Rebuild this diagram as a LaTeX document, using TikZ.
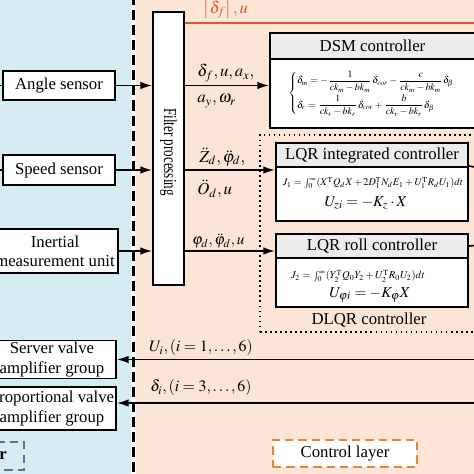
\documentclass[tikz,border=0pt]{standalone}
\usepackage{amsmath}
\usepackage{mathptmx}
\usepackage{fontspec}
\setmainfont{Liberation Serif}
\usetikzlibrary{arrows.meta}

\definecolor{bgblue}{RGB}{214,236,243}
\definecolor{bgpeach}{RGB}{251,229,214}
\definecolor{redline}{RGB}{224,88,48}
\definecolor{layerorange}{RGB}{228,134,58}
\definecolor{layerblue}{RGB}{72,122,160}
\definecolor{bargray}{RGB}{236,236,236}

\begin{document}
\begin{tikzpicture}[x=0.021cm,y=-0.021cm,
        >={Latex[length=7pt,width=4.5pt]},
        boxsize/.style 2 args={minimum width=#1*0.021cm,minimum height=#2*0.021cm},
        every node/.style={inner sep=0pt,font=\fontsize{10}{11.5}\selectfont}]
    \useasboundingbox (0,0) rectangle (474,474);
    \clip (0,0) rectangle (474,474);

    % layers
    \fill [bgblue] (0,0) rectangle (131,474);
    \fill [bgpeach] (136,0) rectangle (474,474);
    \draw [line width=1.2pt,dash pattern=on 6pt off 3pt] (133.5,-5) -- (133.5,480);

    \begin{scope}[every node/.style={draw,line width=1pt,fill=white,align=center,inner sep=0pt,
            font=\fontsize{10}{11.5}\selectfont}]
        \node (angle) [boxsize={112}{29}] at (59,85.5) {Angle sensor};
        \node (speed) [boxsize={112}{30}] at (59,170) {Speed sensor};
        \node (imu) [boxsize={126}{44}] at (55,251) {Inertial\\measurement unit};
        \node (servo) [boxsize={128}{38}] at (52,359.5) {Server valve\\amplifier group};
        \node (prop) [boxsize={128}{43}] at (52,408.5) {Proportional valve\\amplifier group};
        \node (filter) [boxsize={31}{273}] at (168.5,148.5) {};
    \end{scope}
    \node (filtertext) [rotate=-90] at (168.5,152) {\scalebox{0.78}[1.1]{Filter processing}};

    % DSM controller
    \begin{scope}[every node/.style={draw,line width=1.2pt,inner sep=0pt,
            font=\fontsize{10}{11.5}\selectfont}]
        \node (dsmtitle) [fill=bargray,boxsize={205}{26}] at (372.5,46) {DSM controller};
        \node (dsmbody) [fill=white,boxsize={205}{69}] at (372.5,93.5) {};
    \end{scope}
    \node (dsmeq) [anchor=west,font=\fontsize{5.9}{6.8}\selectfont] at (288,93.5) {$\begin{cases}
        \delta_m=-\dfrac{1}{ck_m-bk_m}\delta_{cor}-\dfrac{c}{ck_m-bk_m}\delta_\beta\\[4pt]
        \delta_r=\dfrac{1}{ck_r-bk_r}\delta_{cor}+\dfrac{b}{ck_r-bk_r}\delta_\beta
        \end{cases}$};

    % DLQR controller
    \node (dlqr) [draw,dotted,line width=1pt,boxsize={218}{197}] at (369,233.5) {};
    \node (dlqrlabel) at (369,320) {DLQR controller};
    \begin{scope}[every node/.style={draw,line width=1.2pt,inner sep=0pt,
            font=\fontsize{10}{11.5}\selectfont}]
        \node (lqrititle) [fill=bargray,boxsize={192}{24}] at (372,155) {LQR integrated controller};
        \node (lqribody) [fill=white,boxsize={192}{54}] at (372,194) {};
        \node (lqrrtitle) [fill=bargray,boxsize={192}{24}] at (372,246) {LQR roll controller};
        \node (lqrrbody) [fill=white,boxsize={192}{49}] at (372,282.5) {};
    \end{scope}
    \node (lqrieqa) [font=\fontsize{6.1}{7}\selectfont] at (373,183)
        {$J_1=\int_0^{\infty}(X^{\mathrm T}Q_dX+2D_1^{\mathrm T}N_dE_1+U_1^{\mathrm T}R_dU_1)dt$};
    \node (lqrieqb) [font=\small] at (366,203) {$U_{zi}=-K_z\cdot X$};
    \node (lqrreqa) [font=\fontsize{6.3}{7}\selectfont] at (358,276)
        {$J_2=\int_0^{\infty}(Y_2^{\mathrm T}Q_0Y_2+U_2^{\mathrm T}R_0U_2)dt$};
    \node (lqrreqb) [font=\small] at (370,295) {$U_{\varphi i}=-K_\varphi X$};

    % layer tags
    \node (ctrllayer) [draw=layerorange,fill=white,line width=1.2pt,dash pattern=on 5pt off 3pt,
        boxsize={144}{27}] at (345,453.5) {Control layer};
    \node (execlayer) [draw=layerblue,line width=1.2pt,dash pattern=on 5pt off 3pt,
        boxsize={100}{28}] at (-26,456) {};
    \node (execlabel) at (3,456) {\bfseries r};

    % free ends
    \coordinate (anglein) at (-10,85.5);
    \coordinate (speedin) at (-10,170);
    \coordinate (redend) at (480,23);
    \coordinate (outi) at (480,168);
    \coordinate (outr) at (480,245);
    \coordinate (ucmd) at (480,359.5);
    \coordinate (dcmd) at (480,403);

    \begin{scope}[line width=1pt]
        \draw (anglein) -- (angle);
        \draw (speedin) -- (speed);
        \draw [->] (angle) -- (filter.west |- angle);
        \draw [->] (speed) -- (filter.west |- speed);
        \draw [->] (imu) -- (filter.west |- imu);
        \draw [->] (filter.east |- angle) -- (dsmbody.west |- angle);
        \draw [->] (filter.east |- speed) -- (lqribody.west |- speed);
        \draw [->] (filter.east |- imu) -- (lqrrtitle.west |- imu);
        \draw (lqribody.north east) -- (outi);
        \draw (lqrrtitle.east) -- (outr);
        \draw [->] (ucmd) -- (servo);
        \draw [->] (dcmd) -- (prop.east |- dcmd);
        \draw [draw=redline,line width=1.2pt] (filter.east |- redend) -- (redend);
    \end{scope}

    % signal labels
    \node (redlabel) [text=redline] at (226,9) {$\left|\delta_f\right|,u$};
    \node (anglesig) [anchor=west] at (197,73) {$\delta_f,u,a_x,$};
    \node (anglesigb) [anchor=west] at (197,101) {$a_y,\omega_r$};
    \node (speedsig) [anchor=west] at (199,157) {$\ddot{Z}_d,\ddot{\varphi}_d,$};
    \node (speedsigb) [anchor=west] at (197,189) {$\ddot{O}_d,u$};
    \node (imusig) [anchor=west,font=\small] at (192,241) {$\varphi_d,\ddot{\varphi}_d,u$};
    \node (ulabel) [font=\fontsize{9.5}{11}\selectfont] at (201,348) {$U_i,(i=1,\ldots,6)$};
    \node (dlabel) [font=\fontsize{9.5}{11}\selectfont] at (201,388) {$\delta_i,(i=3,\ldots,6)$};
\end{tikzpicture}
\end{document}
